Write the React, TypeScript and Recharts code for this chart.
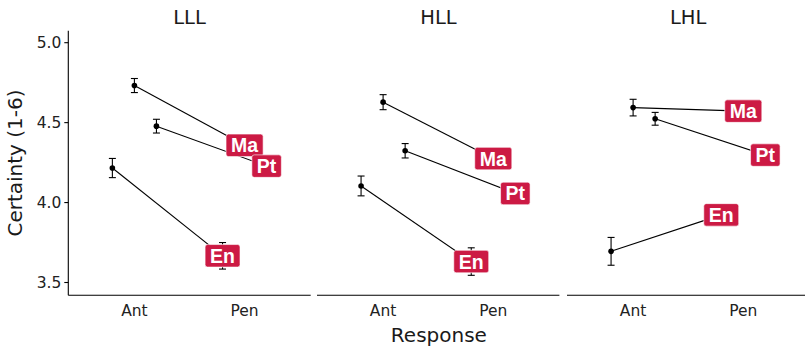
import React from 'react';
import { ComposedChart, Scatter, XAxis, YAxis, ErrorBar } from 'recharts';

const facets = ['LLL', 'HLL', 'LHL'];
const responses = ['Ant', 'Pen'];
const languages = ['En', 'Ma', 'Pt'];

// mean certainty per facet: [Ant, Pen]
const enMeans = [[4.216, 3.667], [4.104, 3.631], [3.695, 3.923]];
const maMeans = [[4.732, 4.358], [4.628, 4.275], [4.594, 4.572]];
const ptMeans = [[4.478, 4.228], [4.324, 4.057], [4.524, 4.297]];

// standard errors per facet: [Ant, Pen]
const enSE = [[0.06, 0.083], [0.062, 0.086], [0.087, 0.06]];
const maSE = [[0.044, 0.04], [0.047, 0.04], [0.052, 0.04]];
const ptSE = [[0.043, 0.04], [0.045, 0.04], [0.04, 0.04]];

const yTicks = [3.5, 4.0, 4.5, 5.0];

const means: Record<string, number[][]> = { En: enMeans, Ma: maMeans, Pt: ptMeans };
const ses: Record<string, number[][]> = { En: enSE, Ma: maSE, Pt: ptSE };
const dodge: Record<string, number> = { En: -0.2, Ma: 0, Pt: 0.2 };

const RED = '#CC1A44';
const FONT = '"DejaVu Sans", sans-serif';
const LABEL_FONT = 19.5;
// Liberation Sans Bold advance widths (em)
const charW: Record<string, number> = { M: 0.833, a: 0.556, P: 0.667, t: 0.333, E: 0.667, n: 0.611 };
const textW = (s: string) => s.split('').reduce((a, c) => a + (charW[c] ?? 0.6), 0) * LABEL_FONT;

const PLOT_W = 242.4;
const PLOT_TOP = 30.7;
const PLOT_BOTTOM = 295.3;
const H = 348;
const panelLeft = [68.3, 317.3, 567];

function seriesFor(f: number, lang: string) {
  return responses.map((r, i) => ({
    x: i + 1 + dodge[lang],
    y: means[lang][f][i],
    se: ses[lang][f][i],
    lang,
    response: r,
  }));
}

const Dot = (p: any) => <circle cx={p.cx} cy={p.cy} r={2.8} fill="#000" />;

const LabelShape = (p: any) => {
  const name = p.payload.lang;
  const w = textW(name) + 10;
  const h = 22.5;
  return (
    <g>
      <rect x={p.cx - w / 2} y={p.cy - h / 2} width={w} height={h} rx={2.5} fill={RED} stroke="#fff" strokeWidth={0.6} />
      <text x={p.cx} y={p.cy} dy="0.36em" textAnchor="middle" fill="#fff" fontWeight="bold"
        fontSize={LABEL_FONT} fontFamily='"Liberation Sans", Arial, sans-serif'>{name}</text>
    </g>
  );
};

function Panel({ f }: { f: number }) {
  const first = f === 0;
  const yW = first ? panelLeft[0] : 0;
  const width = yW + PLOT_W;
  const left = first ? 0 : panelLeft[f];
  const labels = languages.map((lang) => seriesFor(f, lang)[1]);
  return (
    <div style={{ position: 'absolute', left, top: 0 }}>
      <ComposedChart width={width} height={H} margin={{ top: PLOT_TOP, right: 0, bottom: H - PLOT_BOTTOM - 30, left: 0 }}>
        <XAxis type="number" dataKey="x" domain={[0.4, 2.6]} ticks={[1, 2]} allowDataOverflow
          tickFormatter={(v: number) => responses[v - 1]} height={30}
          axisLine={{ stroke: '#000', strokeWidth: 1.1 }} tickLine={false} tickSize={0} tickMargin={10}
          tick={{ fill: '#222', fontSize: 15.5, fontFamily: FONT }} />
        <YAxis type="number" dataKey="y" domain={[3.42, 5.075]} ticks={yTicks} allowDataOverflow
          hide={!first} width={yW} tickFormatter={(v: number) => v.toFixed(1)}
          axisLine={{ stroke: '#000', strokeWidth: 1.1 }} tickLine={{ stroke: '#000', strokeWidth: 1.1 }}
          tickSize={4} tickMargin={3} tick={{ fill: '#222', fontSize: 15.5, fontFamily: FONT }} />
        {languages.map((lang) => (
          <Scatter key={lang} data={seriesFor(f, lang)} line={{ stroke: '#000', strokeWidth: 1.1 }}
            shape={Dot} isAnimationActive={false}>
            <ErrorBar dataKey="se" direction="y" width={3.5} stroke="#000" strokeWidth={1.1} />
          </Scatter>
        ))}
        <Scatter data={labels} shape={LabelShape} isAnimationActive={false} />
      </ComposedChart>
    </div>
  );
}

export default function App() {
  return (
    <div style={{ position: 'absolute', left: 0, top: 0, width: 805, height: H, overflow: 'hidden', background: '#fff' }}>
      {facets.map((_, f) => <Panel key={f} f={f} />)}
      <svg width={805} height={H} style={{ position: 'absolute', left: 0, top: 0, pointerEvents: 'none' }}>
        {facets.map((name, f) => (
          <text key={name} x={panelLeft[f] + PLOT_W / 2} y={24} textAnchor="middle" fontSize={19.5}
            fontFamily={FONT} fill="#1a1a1a">{name}</text>
        ))}
        <text x={438.9} y={341.7} textAnchor="middle" fontSize={20} fontFamily={FONT} fill="#1a1a1a">Response</text>
        <text x={22} y={163} transform="rotate(-90 22 163)" textAnchor="middle" fontSize={20}
          fontFamily={FONT} fill="#1a1a1a">Certainty (1-6)</text>
      </svg>
    </div>
  );
}
